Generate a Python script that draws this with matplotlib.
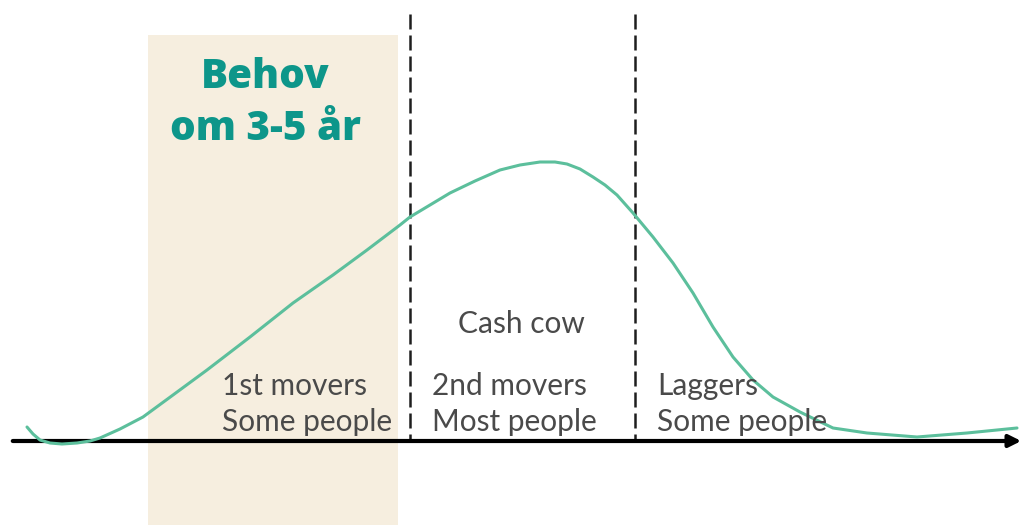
import numpy as np
import matplotlib.pyplot as plt
from matplotlib.patches import Rectangle

# adoption curve, traced in picture pixels (x right, y down)
curve_x = [27, 33, 40, 50, 62, 77, 90, 100, 120, 143, 173, 207, 250, 293, 333, 367,
           400, 410, 430, 450, 475, 500, 520, 540, 555, 567, 580, 593, 605, 617, 633,
           653, 673, 693, 713, 733, 753, 773, 800, 833, 867, 917, 967, 1017]
curve_y = [427, 434, 440, 443, 444, 443, 441, 438, 429, 417, 395, 370, 337, 303, 275, 250,
           225, 217, 205, 193, 181, 170, 165, 162, 162, 164, 169, 177, 185, 195, 213,
           237, 263, 293, 327, 357, 380, 397, 412, 428, 433, 437, 433, 428]

divider_x = [410, 635]
highlight_span = (148, 398)

segment_labels = [
    (222, "1st movers\nSome people"),
    (432, "2nd movers\nMost people"),
    (657, "Laggers\nSome people"),
]
top_label = (458, "Cash cow")
callout = "Behov\nom 3-5 år"

fig = plt.figure(figsize=(10.25, 5.25), dpi=100)
ax = fig.add_axes([0, 0, 1, 1])
ax.set_xlim(0, 1025)
ax.set_ylim(525, 0)
ax.axis('off')

ax.add_patch(Rectangle((highlight_span[0], 35), highlight_span[1] - highlight_span[0], 500,
                       facecolor='#f6eedf', edgecolor='none', zorder=0))

for x in divider_x:
    ax.plot([x, x], [14, 441], color='#1e1e1e', lw=1.8, ls=(0, (6, 2.4)), zorder=2)

ax.annotate('', xy=(1024, 441), xytext=(10, 441),
            arrowprops=dict(arrowstyle='-|>', color='black', lw=3, mutation_scale=18),
            zorder=3)

ax.plot(curve_x, curve_y, color='#5cbf9c', lw=2.2, zorder=4,
        solid_capstyle='round', solid_joinstyle='round')

font = ['Lato', 'DejaVu Sans']
for x, txt in segment_labels:
    ax.text(x, 431, txt, ha='left', va='baseline', fontsize=21.5, color='#4a4a4a',
            family=font, linespacing=1.35, zorder=5)
ax.text(top_label[0], 333, top_label[1], ha='left', va='baseline', fontsize=21.5,
        color='#4a4a4a', family=font, zorder=5)

ax.text(265, 140, callout, ha='center', va='baseline', fontsize=29, fontweight='heavy',
        color='#0d968a', family=['Open Sans', 'DejaVu Sans'],
        linespacing=1.37, zorder=5)

fig.savefig('out.png', dpi=100)
